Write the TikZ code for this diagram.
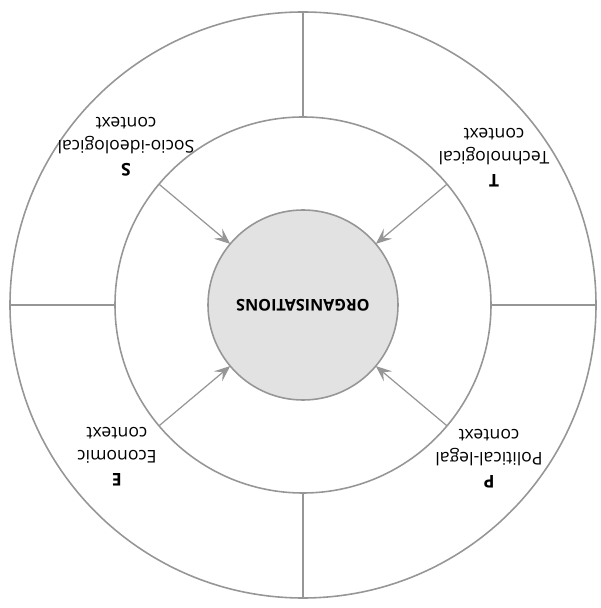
\documentclass[tikz,border=0pt]{standalone}
\usepackage{fontspec}
\setmainfont{Open Sans}
\usetikzlibrary{arrows.meta,calc}
\definecolor{ringgray}{RGB}{150,150,150}
\definecolor{coregray}{RGB}{226,226,226}

\begin{document}
\begin{tikzpicture}[
  ring/.style={circle, draw=ringgray, line width=0.9pt, inner sep=0pt, outer sep=0pt},
  factor/.style={rotate=180, align=center, font=\fontsize{10}{13}\selectfont},
  push/.style={draw=ringgray, line width=0.7pt, -{Stealth[length=3.2mm,width=2.6mm,inset=1.3mm]}}
]

\useasboundingbox (-6.06,-6.06) rectangle (5.94,6.10);

\node [ring, minimum size=11.72cm] (outer) at (0,0) {};
\node [ring, minimum size=7.52cm] (middle) at (0,0) {};
\node [ring, minimum size=3.8cm, fill=coregray, font=\bfseries\fontsize{9.2}{11}\selectfont] (core) at (0,0) {\rotatebox{180}{ORGANISATIONS}};

% sector borders
\foreach \a in {0,90,180,270}
  \draw[ringgray, line width=0.9pt] (middle.\a) -- (outer.\a);

% influences
\foreach \a in {40,140,220,320}
  \draw[push] (middle.\a) -- (core.\a);

\node [factor] (tech) at (3.82,2.94) {\textbf{T}\\Technological\\context};
\node [factor] (socio) at (-3.54,3.16) {\textbf{S}\\Socio-ideological\\context};
\node [factor] (econ) at (-3.72,-3.04) {\textbf{E}\\Economic\\context};
\node [factor] (polit) at (3.72,-3.08) {\textbf{P}\\Political-legal\\context};

\end{tikzpicture}
\end{document}
